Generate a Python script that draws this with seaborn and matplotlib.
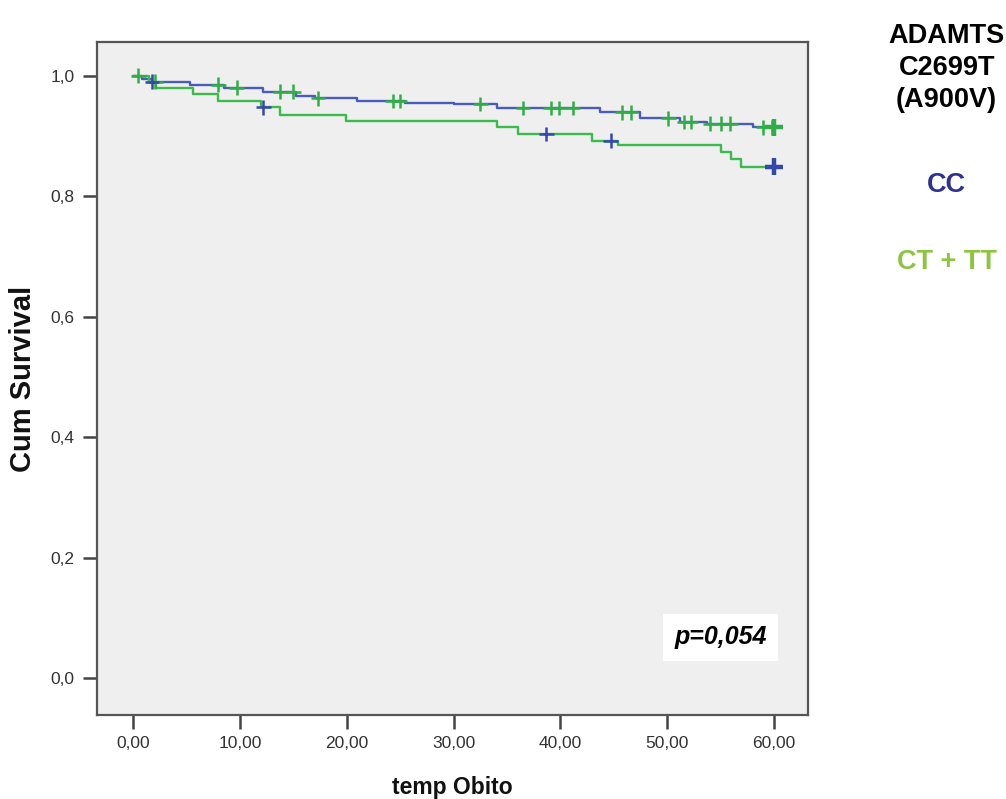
import numpy as np
import pandas as pd
import matplotlib.pyplot as plt
import seaborn as sns

sns.set_style("white", {"axes.facecolor": "#efefef"})

# Kaplan-Meier step curves (time in months, cumulative survival)
cc_times = [0, 0.8, 1.8, 5.3, 8.5, 12.2, 15.3, 17.0, 21.0, 25.5, 30.0, 34.1,
            43.7, 47.5, 51.2, 53.7, 58.0, 60.0]
cc_surv = [1.0, 0.995, 0.990, 0.985, 0.980, 0.973, 0.966, 0.962, 0.958, 0.955,
           0.953, 0.946, 0.939, 0.929, 0.923, 0.920, 0.914, 0.914]

ct_times = [0, 1.5, 2.2, 5.6, 8.0, 12.0, 13.8, 19.9, 34.1, 36.0, 43.0, 45.4,
            55.0, 56.0, 56.9, 60.0]
ct_surv = [1.0, 0.990, 0.980, 0.969, 0.957, 0.947, 0.935, 0.925, 0.915, 0.903,
           0.892, 0.884, 0.873, 0.862, 0.849, 0.849]

# censored observations
cc_censored = [0.5, 2.1, 8.0, 9.7, 13.8, 15.0, 17.3, 24.3, 25.0, 32.5, 36.5,
               39.1, 39.9, 41.2, 45.8, 46.6, 50.1, 51.6, 52.2, 54.0, 55.0,
               55.9, 59.0, 59.8, 60.0]
ct_censored = [1.8, 12.2, 38.7, 44.7, 60.0]

line_colors = {"CC": "#4a5cba", "CT + TT": "#3dba4c"}
# SPSS drew the censor ticks in the other group's colour
mark_colors = {"CC": "#2fae45", "CT + TT": "#3447ad"}
label_colors = {"CC": "#2e3192", "CT + TT": "#8cc63f"}

curves = pd.concat([
    pd.DataFrame({"time": cc_times, "surv": cc_surv, "group": "CC"}),
    pd.DataFrame({"time": ct_times, "surv": ct_surv, "group": "CT + TT"}),
])


def surv_at(times, surv, t):
    idx = np.searchsorted(times, t, side="right") - 1
    return np.asarray(surv)[idx]


cens = pd.concat([
    pd.DataFrame({"time": cc_censored,
                  "surv": surv_at(cc_times, cc_surv, cc_censored), "group": "CC"}),
    pd.DataFrame({"time": ct_censored,
                  "surv": surv_at(ct_times, ct_surv, ct_censored), "group": "CT + TT"}),
])

fig = plt.figure(figsize=(10.06, 7.99), dpi=100)
ax = fig.add_axes([0.0964, 0.105, 0.707, 0.842])

sns.lineplot(data=curves, x="time", y="surv", hue="group", palette=line_colors,
             drawstyle="steps-post", estimator=None, linewidth=1.7, legend=False, ax=ax)
sns.scatterplot(data=cens, x="time", y="surv", hue="group", palette=mark_colors,
                marker="+", s=110, linewidth=1.8, legend=False, ax=ax, zorder=3)
# heavier marks at the end of follow-up
end = cens[cens["time"] == 60.0]
sns.scatterplot(data=end, x="time", y="surv", hue="group", palette=mark_colors,
                marker="+", s=160, linewidth=3.2, legend=False, ax=ax, zorder=4)

ax.set_xlim(-3.37, 63.2)
ax.set_ylim(-0.061, 1.055)
ax.set_xticks(np.arange(0, 61, 10))
ax.set_xticklabels([f"{v},00" for v in range(0, 61, 10)])
ax.set_yticks([0.0, 0.2, 0.4, 0.6, 0.8, 1.0])
ax.set_yticklabels(["0,0", "0,2", "0,4", "0,6", "0,8", "1,0"])

sans = ["Liberation Sans", "DejaVu Sans"]
for lab in ax.get_xticklabels() + ax.get_yticklabels():
    lab.set_family(sans)
    lab.set_fontsize(12.5)
    lab.set_color("#333333")

ax.tick_params(axis="both", direction="out", length=10, width=1.8, color="#444444",
               bottom=True, left=True)
ax.tick_params(axis="x", pad=5)
ax.tick_params(axis="y", pad=6)

for sp in ax.spines.values():
    sp.set_visible(True)
    sp.set_color("#555555")
    sp.set_linewidth(1.6)

ax.set_xlabel("temp Obito", fontsize=16.5, fontweight="bold", family=sans, color="#111111")
ax.set_ylabel("Cum Survival", fontsize=21, fontweight="bold", family=sans, color="#111111")
ax.xaxis.set_label_coords(0.5, -0.09)
ax.yaxis.set_label_coords(-0.085, 0.5)

ax.text(55.0, 0.068, "p=0,054", fontsize=18, fontweight="bold", fontstyle="italic",
        family=sans, ha="center", va="center", color="black",
        bbox=dict(boxstyle="square,pad=0.45", facecolor="white", edgecolor="none"))

fig.text(0.941, 0.915, "ADAMTS\nC2699T\n(A900V)", ha="center", va="center",
         fontsize=19.5, fontweight="bold", family=sans, linespacing=1.32, color="black")
fig.text(0.941, 0.768, "CC", ha="center", va="center", fontsize=19.5,
         fontweight="bold", family=sans, color=label_colors["CC"])
fig.text(0.941, 0.672, "CT + TT", ha="center", va="center", fontsize=19.5,
         fontweight="bold", family=sans, color=label_colors["CT + TT"])

fig.savefig("out.png", dpi=100)
